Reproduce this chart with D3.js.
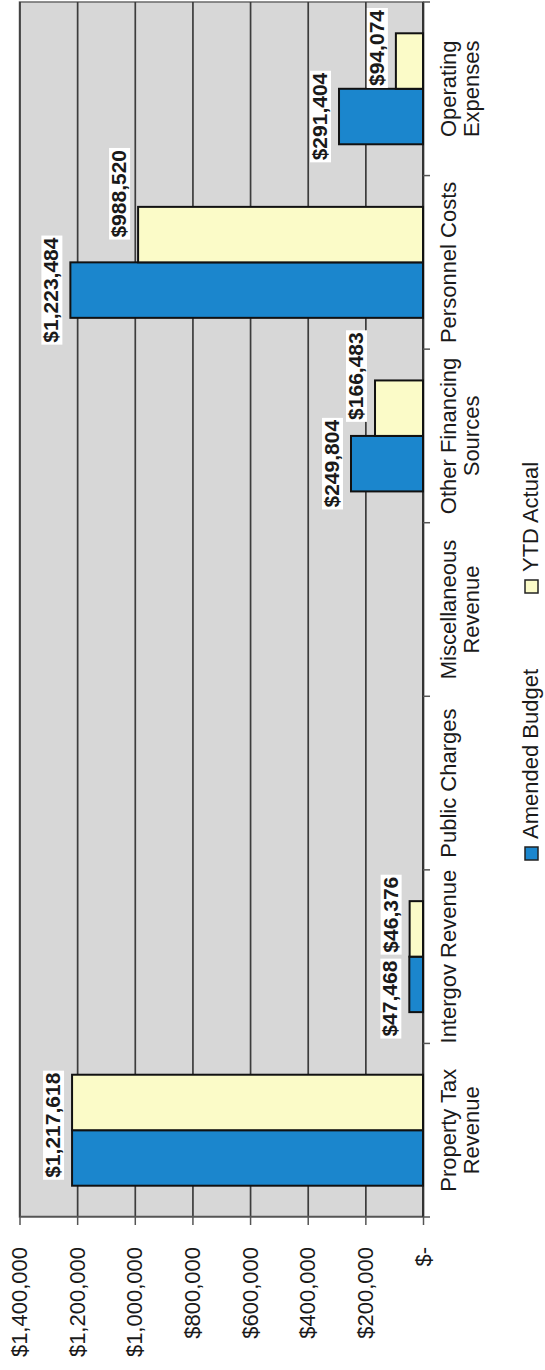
<!DOCTYPE html>
<html>
<head>
<meta charset="utf-8">
<script src="https://cdnjs.cloudflare.com/ajax/libs/d3/7.8.5/d3.min.js"></script>
<style>
  html, body { margin: 0; padding: 0; background: #ffffff; }
  svg { display: block; }
  text { font-family: "Liberation Sans", Arial, sans-serif; fill: #1a1a1a; }
</style>
</head>
<body>
<svg id="chart" width="545" height="1370"></svg>
<script>
// ---------- data ----------
const categories = ["Property Tax Revenue", "Intergov Revenue", "Public Charges",
  "Miscellaneous Revenue", "Other Financing Sources", "Personnel Costs", "Operating Expenses"];
const seriesNames = ["Amended Budget", "YTD Actual"];
const amendedBudget = [1217618, 47468, 0, 0, 249804, 1223484, 291404];
const ytdActual = [1217618, 46376, 0, 0, 166483, 988520, 94074];
const tickValues = [0, 200000, 400000, 600000, 800000, 1000000, 1200000, 1400000];

// ---------- styles ----------
const colors = { "Amended Budget": "#1b86cd", "YTD Actual": "#fbfbc8" };
const seriesValues = { "Amended Budget": amendedBudget, "YTD Actual": ytdActual };

// The chart is drawn in an unrotated frame (1370 wide x 545 tall) and then rotated -90deg.
const W = 1370;
const plotLeft = 153, plotRight = 1368, plotTop = 19.5, plotBottom = 423;

const svg = d3.select("#chart");
const g = svg.append("g").attr("transform", `translate(0,${W}) rotate(-90)`);

const x0 = d3.scaleBand().domain(categories).range([plotLeft, plotRight]).paddingInner(0).paddingOuter(0);
const x1 = d3.scaleBand().domain(seriesNames).range([0, x0.bandwidth()]).paddingInner(0).paddingOuter(0.564);
const y = d3.scaleLinear().domain([0, 1400000]).range([plotBottom, plotTop]);

const money = v => v === 0 ? "$-" : "$" + d3.format(",")(v);

// plot background
g.append("rect")
  .attr("x", plotLeft).attr("y", plotTop)
  .attr("width", plotRight - plotLeft).attr("height", plotBottom - plotTop)
  .attr("fill", "#d7d7d7").attr("stroke", "#6a6a6a").attr("stroke-width", 1.5);

// gridlines
g.append("g").attr("transform", `translate(${plotLeft},0)`)
  .call(d3.axisLeft(y).tickValues(tickValues).tickSize(-(plotRight - plotLeft)).tickFormat(""))
  .call(a => a.select(".domain").remove())
  .call(a => a.selectAll("line").attr("stroke", "#3c3c3c").attr("stroke-width", 1.7));

// value axis (left in unrotated frame)
g.append("g").attr("transform", `translate(${plotLeft},0)`)
  .call(d3.axisLeft(y).tickValues(tickValues).tickFormat(money).tickSizeInner(8).tickSizeOuter(0).tickPadding(22))
  .call(a => a.select(".domain").attr("stroke", "#555").attr("stroke-width", 1.5))
  .call(a => a.selectAll("line").attr("stroke", "#555").attr("stroke-width", 1.5))
  .call(a => a.selectAll("text").attr("font-size", 22).attr("fill", "#1a1a1a")
    .style("font-family", '"Liberation Sans", Arial, sans-serif'));

// category axis line + boundary ticks
const bounds = categories.map(c => x0(c)).concat([x0(categories[categories.length - 1]) + x0.bandwidth()]);
const catAxis = g.append("g");
catAxis.append("line").attr("x1", plotLeft).attr("x2", plotRight).attr("y1", plotBottom).attr("y2", plotBottom)
  .attr("stroke", "#333").attr("stroke-width", 2);
catAxis.selectAll("line.tk").data(bounds).join("line").attr("class", "tk")
  .attr("x1", d => d).attr("x2", d => d).attr("y1", plotBottom).attr("y2", plotBottom + 7)
  .attr("stroke", "#555").attr("stroke-width", 1.5);

// bars
const barData = [];
categories.forEach((c, i) => {
  seriesNames.forEach(s => barData.push({ c, s, v: seriesValues[s][i] }));
});
g.append("g").selectAll("rect").data(barData.filter(d => d.v > 0)).join("rect")
  .attr("x", d => x0(d.c) + x1(d.s))
  .attr("width", x1.bandwidth())
  .attr("y", d => y(d.v))
  .attr("height", d => y(0) - y(d.v))
  .attr("fill", d => colors[d.s])
  .attr("stroke", "#111").attr("stroke-width", 2);

// value labels (simple overlap avoidance)
const labelLayer = g.append("g");
const bgLayer = labelLayer.append("g");
const txtLayer = labelLayer.append("g");
const gap = 8;
categories.forEach((c, i) => {
  const labs = [];
  seriesNames.forEach(s => {
    const v = seriesValues[s][i];
    if (v <= 0) return;
    labs.push({ s, v, text: money(v), cx: x0(c) + x1(s) + x1.bandwidth() / 2, base: y(v) - 12 });
  });
  if (labs.length === 2 && labs[0].text === labs[1].text) {
    labs.splice(1, 1);
    labs[0].cx = x0(c) + x0.bandwidth() / 2 + 5;
  }
  labs.forEach(l => {
    l.node = txtLayer.append("text").attr("font-size", 21).attr("font-weight", "bold")
      .attr("text-anchor", "middle").attr("y", l.base).text(l.text);
    l.w = l.node.node().getComputedTextLength();
  });
  if (labs.length === 2) {
    const a = labs[0], b = labs[1];
    const overlap = (a.cx + a.w / 2 + gap) - (b.cx - b.w / 2);
    if (overlap > 0) {
      const sameRow = Math.abs(a.base - b.base) < 20;
      if (sameRow) { a.cx -= overlap / 2; b.cx += overlap / 2; }
      else b.cx += overlap - gap;
    }
    if (b.cx + b.w / 2 > W - 10) b.cx = W - 10 - b.w / 2;
  }
  labs.forEach(l => {
    l.node.attr("x", l.cx);
    bgLayer.append("rect").attr("x", l.cx - l.w / 2 - 2).attr("y", l.base - 17)
      .attr("width", l.w + 4).attr("height", 21).attr("fill", "#ffffff");
  });
});

// category labels with wrapping
const maxW = x0.bandwidth() + 6;
const catLayer = g.append("g");
categories.forEach(c => {
  const t = catLayer.append("text").attr("font-size", 22).attr("text-anchor", "middle")
    .attr("x", x0(c) + x0.bandwidth() / 2).attr("y", 456);
  const words = c.split(" ");
  let lines = [], cur = [];
  words.forEach(wd => {
    const trial = cur.concat([wd]).join(" ");
    t.text(trial);
    if (t.node().getComputedTextLength() > maxW && cur.length) {
      lines.push(cur.join(" "));
      cur = [wd];
    } else cur.push(wd);
  });
  lines.push(cur.join(" "));
  t.text(null);
  lines.forEach((ln, k) => {
    t.append("tspan").attr("x", x0(c) + x0.bandwidth() / 2).attr("dy", k === 0 ? 0 : 23).text(ln);
  });
});

// legend
const legend = g.append("g");
const legendPos = [510, 777];
seriesNames.forEach((s, i) => {
  legend.append("rect").attr("x", legendPos[i]).attr("y", 525).attr("width", 13).attr("height", 13)
    .attr("fill", colors[s]).attr("stroke", "#222").attr("stroke-width", 1.5);
  legend.append("text").attr("x", legendPos[i] + 21).attr("y", 538).attr("font-size", 22).text(s);
});
</script>
</body>
</html>
